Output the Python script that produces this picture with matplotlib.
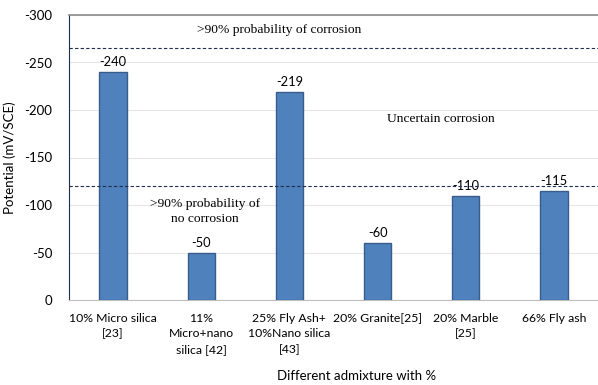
import matplotlib.pyplot as plt
import numpy as np

# Half-cell potential for each admixture
labels = ['10% Micro silica\n[23]', '11%\nMicro+nano\nsilica [42]', '25% Fly Ash+\n10%Nano silica\n[43]',
          '20% Granite[25]', '20% Marble\n[25]', '66% Fly ash']
potential = [-240, -50, -219, -60, -110, -115]

# ASTM C876 style thresholds
corrosion_limit = -265
no_corrosion_limit = -120

sans = ['Lato', 'DejaVu Sans']
serif = ['Liberation Serif', 'DejaVu Serif']
plt.rcParams['axes.unicode_minus'] = False

fig = plt.figure(figsize=(5.98, 3.85), dpi=100)
ax = fig.add_axes([69 / 598, 1 - 300 / 385, 529 / 598, 285 / 385])

x = np.arange(len(labels))
ax.bar(x, potential, width=0.31, color='#4f81bd', edgecolor='#385d8a', linewidth=1, zorder=3)
for xi, v in zip(x, potential):
    ax.text(xi, v - 4, f'{v}', ha='center', va='bottom', fontsize=9.3, family=sans)

ax.set_ylim(0, -300)
ax.set_xlim(-0.5, len(labels) - 0.5)
ax.set_yticks(np.arange(0, -301, -50))
ax.yaxis.grid(True, color='#e6e6e6', linewidth=0.8, zorder=0)

ax.axhline(corrosion_limit, color='#1f2d4f', linestyle='--', linewidth=0.8, dashes=(3, 2), zorder=4)
ax.axhline(no_corrosion_limit, color='#1f2d4f', linestyle='--', linewidth=0.8, dashes=(3, 2), zorder=4)

ax.text(1.88, -284, '>90% probability of corrosion', ha='center', va='center', fontsize=9.7, family=serif)
ax.text(3.72, -191, 'Uncertain corrosion', ha='center', va='center', fontsize=9.7, family=serif)
ax.text(1.04, -93, '>90% probability of\nno corrosion', ha='center', va='center', fontsize=9.7,
        family=serif, linespacing=1.3)

ax.set_xticks(x)
ax.set_xticklabels(labels, fontsize=8.8, family=sans, linespacing=1.55)
for t in ax.get_yticklabels():
    t.set_fontsize(9.5)
    t.set_family(sans)
ax.tick_params(axis='x', length=0, pad=9)
ax.tick_params(axis='y', length=0, pad=12)

ax.set_ylabel('Potential (mV/SCE)', fontsize=9.5, family=sans, labelpad=6)
ax.set_xlabel('Different admixture with %', fontsize=9.5, family=sans, labelpad=10)
ax.xaxis.set_label_coords(0.543, -0.245)

ax.spines['right'].set_visible(False)
ax.spines['top'].set_color('#8c8c8c')
ax.spines['top'].set_linewidth(1.2)
ax.spines['bottom'].set_color('#bfbfbf')
ax.spines['left'].set_color('#1f2d4f')

fig.savefig('out.png', dpi=100)
